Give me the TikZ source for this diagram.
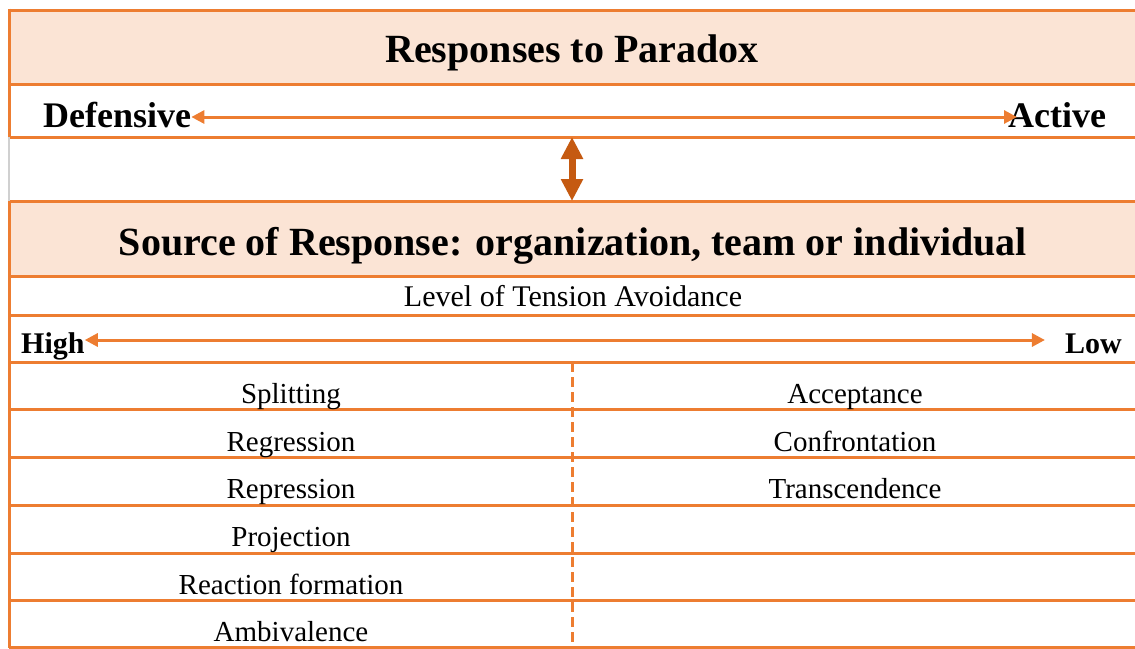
\documentclass[tikz,border=0pt]{standalone}
\usepackage{fontspec}
\setmainfont{Liberation Serif}
\usetikzlibrary{arrows.meta}
\definecolor{orl}{HTML}{ED7D31}
\definecolor{peach}{HTML}{FBE4D5}
\definecolor{dor}{HTML}{C55A11}
\definecolor{gline}{HTML}{D0D0D0}
\begin{document}
\begin{tikzpicture}[x=1pt,y=-1pt,
  rule/.style={draw=orl,line width=3pt},
  ttl/.style={inner sep=0pt,anchor=base,font=\fontsize{40}{46}\selectfont\bfseries},
  pole/.style={inner sep=0pt,font=\fontsize{36}{40}\selectfont\bfseries},
  hl/.style={inner sep=0pt,font=\fontsize{30}{36}\selectfont\bfseries},
  item/.style={inner sep=0pt,anchor=base,font=\fontsize{29}{34}\selectfont},
  harrow/.style={draw=orl,line width=3pt,{Triangle[length=13pt,width=13pt]}-{Triangle[length=13pt,width=13pt]}},
  varrow/.style={draw=dor,line width=7pt,{Triangle[length=22pt,width=21pt]}-{Triangle[length=22pt,width=21pt]}}]
\useasboundingbox (0,0) rectangle (1135,648);
% fills
\fill[peach] (9,10) rectangle (1135,84);
\fill[peach] (9,201) rectangle (1135,276);
% horizontal rules
\foreach \yy in {10,84,137,201,276,315,362,409,457,505,553,600,647}
  \draw[rule] (9,\yy) -- (1135,\yy);
% left border
\draw[rule] (9,8.5) -- (9,137);
\draw[draw=gline,line width=2pt] (9,137) -- (9,201);
\draw[rule] (9,201) -- (9,648);
% dashed divider
\draw[draw=orl,line width=3pt,dash pattern=on 10pt off 5pt] (572,362) -- (572,648);
% titles
\node[ttl] (t1) at (572,62) {Responses to Paradox};
\node[pole,anchor=base west] (def) at (43,127) {Defensive};
\node[pole,anchor=base west] (act) at (1008,127) {Active};
\draw[harrow,shorten >=-9pt] ([yshift=10pt]def.base east) -- ([yshift=10pt]act.base west);
% vertical arrow
\coordinate (va1) at (572,137);
\coordinate (va2) at (572,201);
\draw[varrow] (va1) -- (va2);
\node[ttl] (t2) at (573,255) {Source of Response: organization, team or individual};
\node[item,font=\fontsize{30}{36}\selectfont] (lvl) at (573,306) {Level of Tension Avoidance};
\node[hl,anchor=base west] (high) at (21,353) {High};
\node[hl,anchor=base east] (low) at (1122,353) {Low};
\draw[harrow,shorten >=20pt] ([yshift=13pt]high.base east) -- ([yshift=13pt]low.base west);
% items
\node[item] (l1) at (291,403) {Splitting};
\node[item] (l2) at (291,451) {Regression};
\node[item] (l3) at (291,498) {Repression};
\node[item] (l4) at (291,546) {Projection};
\node[item] (l5) at (291,594) {Reaction formation};
\node[item] (l6) at (291,641) {Ambivalence};
\node[item] (r1) at (855,403) {Acceptance};
\node[item] (r2) at (855,451) {Confrontation};
\node[item] (r3) at (855,498) {Transcendence};
\end{tikzpicture}
\end{document}
